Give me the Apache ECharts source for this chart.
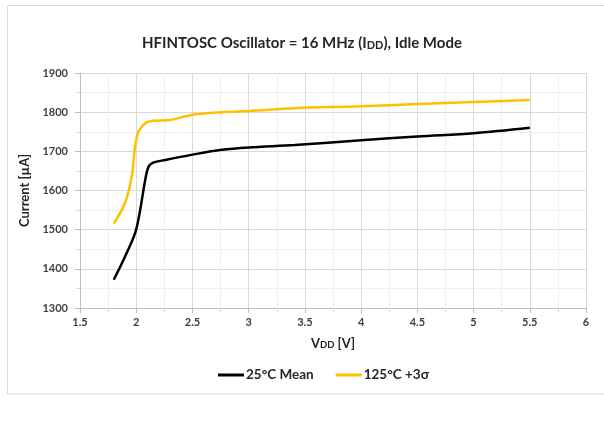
<!DOCTYPE html>
<html><head><meta charset="utf-8">
<script src="https://cdn.jsdelivr.net/npm/echarts@6/dist/echarts.min.js"></script>
<style>html,body{margin:0;padding:0;background:#fff}#c{width:604px;height:430px}</style>
</head><body><div id="c"></div>
<script>
const vdd = [1.8, 1.9, 1.99, 2.03, 2.08, 2.11, 2.15, 2.26, 2.49, 2.76, 3.0, 3.41, 4.0, 4.5, 5.0, 5.5];
const mean25 = [1372, 1431, 1491, 1542, 1627, 1661, 1671, 1678, 1691, 1704, 1710, 1716, 1728, 1738, 1746, 1760];
const vddHot = [1.8, 1.9, 1.96, 1.99, 2.02, 2.08, 2.15, 2.3, 2.49, 2.76, 3.0, 3.41, 4.0, 4.5, 5.0, 5.5];
const hot125 = [1515, 1568, 1635, 1712, 1750, 1772, 1778, 1780, 1793, 1800, 1803, 1810, 1815, 1821, 1826, 1831];
const xTicks = ['1.5','2','2.5','3','3.5','4','4.5','5','5.5','6'];
const yTicks = ['1300','1400','1500','1600','1700','1800','1900'];

const font = 'Lato, "Open Sans", sans-serif';
const chart = echarts.init(document.getElementById('c'));
chart.setOption({
  animation: false,
  graphic: [{type:'rect', shape:{x:7.5,y:5.5,width:640,height:388.5}, style:{fill:'none', stroke:'#d9d9d9', lineWidth:1}, silent:true}],
  title: {
    text: '{a|HFINTOSC Oscillator = 16 MHz (I}{b|DD}{a|), Idle Mode}',
    left: 'center', top: 31,
    textStyle: { rich: { a:{fontFamily:font, fontWeight:'bold', fontSize:15, color:'#262626'}, b:{fontFamily:font, fontWeight:'bold', fontSize:11, color:'#262626', padding:[3,0,0,0]} } }
  },
  legend: {
    bottom: 43, left: 213, itemWidth: 26, itemHeight: 3, itemGap: 22,
    icon: 'rect',
    textStyle: {fontFamily: font, fontWeight:'bold', fontSize: 13.5, color:'#262626', padding:[0,0,0,-3]},
    data: ['25°C Mean', '125°C +3σ']
  },
  grid: {left: 80, right: 18, top: 73, bottom: 122},
  xAxis: {
    type: 'value', min: 1.5, max: 6, interval: 0.5,
    name: '{a|V}{b|DD}{a| [V]}', nameLocation: 'middle', nameGap: 29,
    nameTextStyle: {rich: {a:{fontFamily:font, fontWeight:'bold', fontSize:13, color:'#262626'}, b:{fontFamily:font, fontWeight:'bold', fontSize:9.5, color:'#262626', padding:[2,0,0,0]}}},
    axisLine: {lineStyle:{color:'#bfbfbf'}},
    axisTick: {show:true, length:5, lineStyle:{color:'#bfbfbf'}},
    minorTick: {show:true, splitNumber:2, length:4, lineStyle:{color:'#d9d9d9'}},
    splitLine: {show:true, lineStyle:{color:'#d9d9d9'}},
    minorSplitLine: {show:true, lineStyle:{color:'#efefef'}},
    axisLabel: {fontFamily:font, fontWeight:'bold', fontSize:11, color:'#404040', margin:9,
      formatter: (v) => xTicks.find(t => Math.abs(parseFloat(t)-v) < 1e-6) || ''}
  },
  yAxis: {
    type: 'value', min: 1300, max: 1900, interval: 100,
    name: 'Current [µA]', nameLocation: 'middle', nameGap: 44,
    nameTextStyle: {fontFamily:font, fontWeight:'bold', fontSize:13, color:'#262626'},
    axisLine: {show:true, lineStyle:{color:'#bfbfbf'}},
    axisTick: {show:true, length:5, lineStyle:{color:'#bfbfbf'}},
    minorTick: {show:true, splitNumber:2, length:4, lineStyle:{color:'#d9d9d9'}},
    splitLine: {show:true, lineStyle:{color:'#d9d9d9'}},
    minorSplitLine: {show:true, lineStyle:{color:'#efefef'}},
    axisLabel: {fontFamily:font, fontWeight:'bold', fontSize:11, color:'#404040', margin:12,
      formatter: (v) => yTicks.find(t => +t === v) || ''}
  },
  series: [
    {name:'25°C Mean', type:'line', smooth:0.35, showSymbol:false, color:'#000000',
     lineStyle:{width:2.5, color:'#000000'}, data: vdd.map((x,i)=>[x, mean25[i]])},
    {name:'125°C +3σ', type:'line', smooth:0.35, showSymbol:false, color:'#FFC000',
     lineStyle:{width:2.5, color:'#FFC000'}, data: vddHot.map((x,i)=>[x, hot125[i]])}
  ]
});
</script></body></html>
